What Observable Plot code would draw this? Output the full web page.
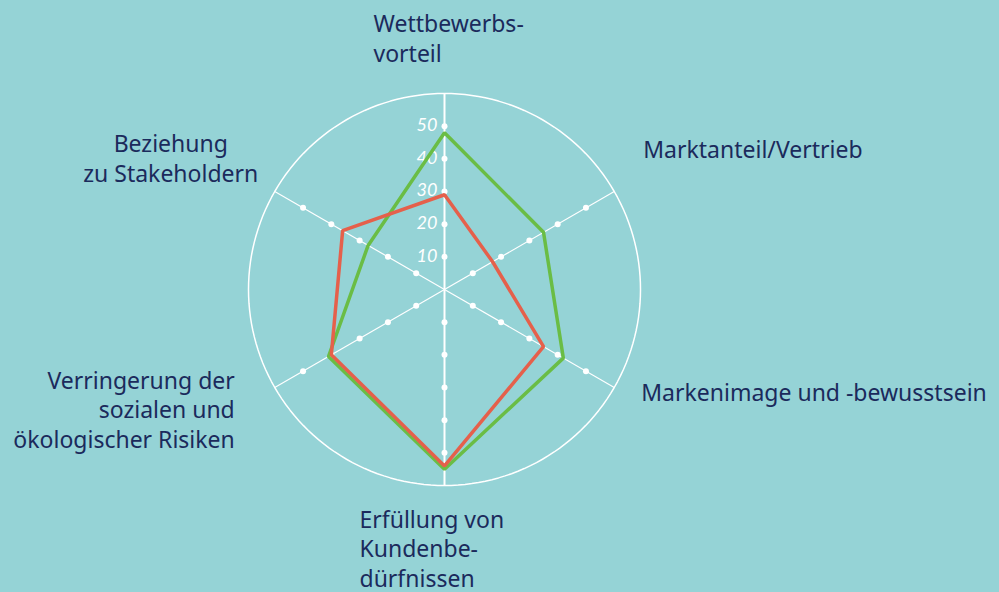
<!DOCTYPE html>
<html>
<head>
<meta charset="utf-8">
<script src="https://cdn.jsdelivr.net/npm/d3@7"></script>
<script src="https://cdn.jsdelivr.net/npm/@observablehq/plot@0.6"></script>
<style>
  html, body { margin: 0; padding: 0; background: #95d3d6; }
  #chart svg { display: block; }
</style>
</head>
<body>
<div id="chart"></div>
<script>
// ---- data ----
const axisLabels = [
  "Wettbewerbs-\nvorteil",
  "Marktanteil/Vertrieb",
  "Markenimage und -bewusstsein",
  "Erfüllung von\nKundenbe-\ndürfnissen",
  "Verringerung der\nsozialen und\nökologischer Risiken",
  "Beziehung\nzu Stakeholdern"
];
const seriesNames = ["Serie A", "Serie B"];
const greenValues = [48, 35, 42, 55, 41, 27];
const redValues = [29, 17, 35, 54, 40, 36];
const tickValues = [10, 20, 30, 40, 50];
const maxValue = 60;

// ---- layout ----
const W = 999, H = 592;
const cx = 444, cy = 289, R = 196;
const k = R / maxValue;
const n = axisLabels.length;
const ang = i => (i * 2 * Math.PI) / n;
const px = (i, v) => v * Math.sin(ang(i));
const py = (i, v) => v * Math.cos(ang(i));

const navy = "#1b2a5c";
const green = "#6abd45";
const red = "#e5604b";
const font = "'Noto Sans', Lato, sans-serif";

const polygon = vals => vals.map((v, i) => ({x: px(i, v), y: py(i, v)}));
const greenPts = polygon(greenValues);
const redPts = polygon(redValues);

const spokes = axisLabels.map((label, i) => ({i, x1: 0, y1: 0, x2: px(i, maxValue), y2: py(i, maxValue)}));
const dots = axisLabels.flatMap((label, i) => tickValues.map(t => ({x: px(i, t), y: py(i, t)})));
const circle = d3.range(0, 361, 2).map(a => ({x: maxValue * Math.sin(a * Math.PI / 180), y: maxValue * Math.cos(a * Math.PI / 180)}));

// label placement (offsets from spoke end, px)
const labelStyle = [
  {anchor: "start", dx: -71, dy: -32},
  {anchor: "start", dx: 29, dy: -34},
  {anchor: "start", dx: 27, dy: 13},
  {anchor: "start", dx: -85, dy: 101},
  {anchor: "end", dx: -40, dy: 60},
  {anchor: "middle", dx: -104, dy: -10}
];

const labelMarks = axisLabels.map((label, i) =>
  Plot.text([{x: px(i, maxValue), y: py(i, maxValue), t: label}], {
    x: "x", y: "y", text: "t",
    textAnchor: labelStyle[i].anchor,
    lineAnchor: "bottom",
    lineHeight: 1.28,
    dx: labelStyle[i].dx, dy: labelStyle[i].dy,
    fill: navy, fontSize: 23, fontFamily: font
  })
);

const chart = Plot.plot({
  width: W, height: H,
  margin: 0,
  style: {background: "#95d3d6", fontFamily: font, overflow: "visible"},
  x: {type: "linear", domain: [-cx / k, (W - cx) / k], range: [0, W], axis: null},
  y: {type: "linear", domain: [-(H - cy) / k, cy / k], range: [H, 0], axis: null},
  marks: [
    Plot.line(circle, {x: "x", y: "y", stroke: "white", strokeWidth: 1.5}),
    Plot.link(spokes.filter(d => d.i % 3 !== 0), {x1: "x1", y1: "y1", x2: "x2", y2: "y2", stroke: "white", strokeWidth: 1.2}),
    Plot.link(spokes.filter(d => d.i % 3 === 0), {x1: "x1", y1: "y1", x2: "x2", y2: "y2", stroke: "white", strokeWidth: 2}),
    Plot.dot(dots, {x: "x", y: "y", r: 3, fill: "white"}),
    Plot.text(tickValues, {x: 0, y: d => d, text: d => String(d), textAnchor: "end", dx: -7, dy: -1,
      fill: "white", fontSize: 18, fontStyle: "italic", fontFamily: "Lato, sans-serif"}),
    Plot.line(greenPts, {x: "x", y: "y", curve: "linear-closed", stroke: green, strokeWidth: 3.5, strokeLinejoin: "miter", title: () => seriesNames[0]}),
    Plot.line(redPts, {x: "x", y: "y", curve: "linear-closed", stroke: red, strokeWidth: 3.5, strokeLinejoin: "miter", title: () => seriesNames[1]}),
    ...labelMarks
  ]
});
document.getElementById("chart").appendChild(chart);
</script>
</body>
</html>
